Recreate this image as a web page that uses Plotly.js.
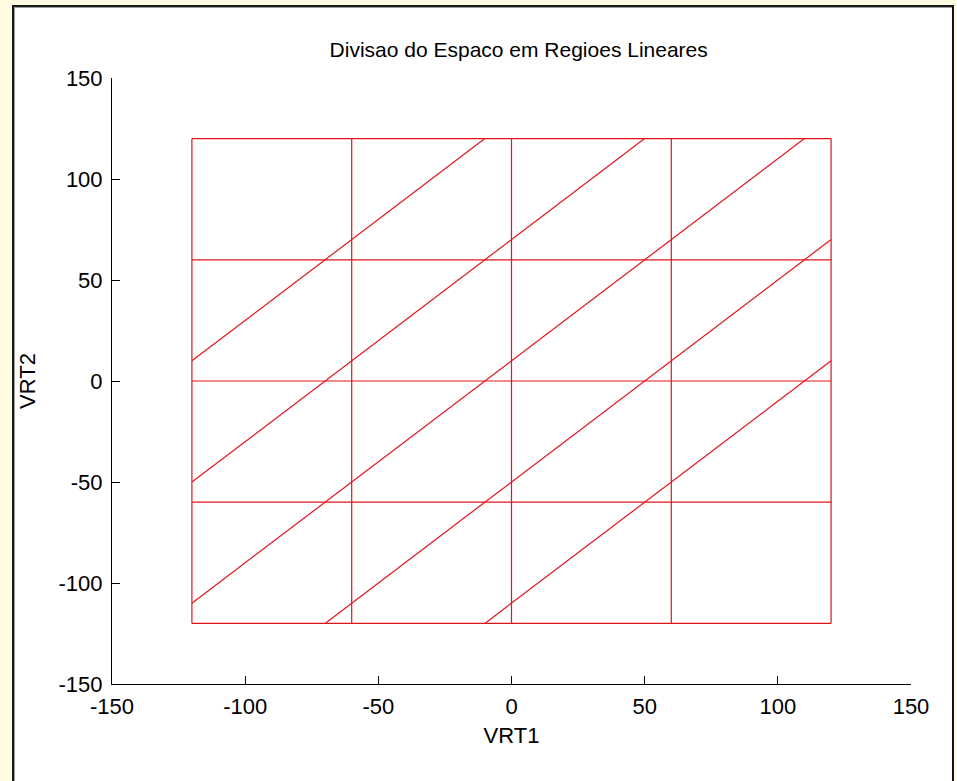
<!DOCTYPE html>
<html>
<head>
<meta charset="utf-8">
<script src="https://cdn.plot.ly/plotly-3.0.1.min.js"></script>
<style>
  html, body { margin: 0; padding: 0; width: 957px; height: 781px; overflow: hidden; background: #FFFBE3; }
  #frame { position: absolute; left: 12px; top: 5px; width: 938px; height: 800px; background: #fff;
           border-left: 2px solid #1a1a1a; border-top: 2px solid #1a1a1a; border-right: 2px solid #111; box-shadow: inset 1px 1px 0 #9a9a9a; }
  #chart { position: absolute; left: 0; top: 0; width: 957px; height: 781px; }
</style>
</head>
<body>
<div id="frame"></div>
<div id="chart"></div>
<script>
// Region grid (vertical and horizontal division lines)
const gridX = [-120, -60, 0, 60, 120];
const gridY = [-120, -60, 0, 60, 120];
// Diagonal division lines (segment endpoints)
const diagStartX = [-120, -120, -120, -70, -10];
const diagStartY = [10, -50, -110, -120, -120];
const diagEndX = [-10, 50, 110, 120, 120];
const diagEndY = [120, 120, 120, 70, 10];
// Axis ticks
const tickVals = [-150, -100, -50, 0, 50, 100, 150];
const tickText = ['-150', '-100', '-50', '0', '50', '100', '150'];

const yMin = Math.min(...gridY), yMax = Math.max(...gridY);
const xMin = Math.min(...gridX), xMax = Math.max(...gridX);
const lx = [], ly = [];
gridX.forEach(g => { lx.push(g, g, null); ly.push(yMin, yMax, null); });
gridY.forEach(g => { lx.push(xMin, xMax, null); ly.push(g, g, null); });
for (let i = 0; i < diagStartX.length; i++) {
  lx.push(diagStartX[i], diagEndX[i], null);
  ly.push(diagStartY[i], diagEndY[i], null);
}

const red = 'rgb(225,20,30)';
const traces = [{
  type: 'scatter', mode: 'lines', x: lx, y: ly, connectgaps: false,
  line: { color: red, width: 1.2 }, hoverinfo: 'skip', showlegend: false
}];

const font = 'Liberation Sans, Arial, Helvetica, sans-serif';
const axisCommon = {
  range: [-150, 150], tickvals: tickVals, ticktext: tickText,
  ticks: 'inside', ticklen: 8, tickwidth: 1, tickcolor: '#000',
  showline: true, linecolor: '#000', linewidth: 1,
  showgrid: false, zeroline: false, zerolinecolor: red, zerolinewidth: 1,
  tickfont: { family: font, size: 22, color: '#000' }, fixedrange: true
};

const layout = {
  width: 957, height: 781,
  margin: { l: 112, r: 46, t: 78, b: 97 },
  paper_bgcolor: 'rgba(0,0,0,0)', plot_bgcolor: 'rgba(0,0,0,0)',
  showlegend: false,
  title: { text: 'Divisao do Espaco em Regioes Lineares', font: { family: font, size: 21, color: '#000' },
           x: 0.509, xref: 'paper', xanchor: 'center', y: 1 - 50 / 781, yref: 'container', yanchor: 'middle' },
  xaxis: Object.assign({}, axisCommon, {
    ticklabelstandoff: 3,
    title: { text: 'VRT1', font: { family: font, size: 22, color: '#000' }, standoff: 9 }
  }),
  yaxis: Object.assign({}, axisCommon, {
    ticklabelstandoff: 4,
    title: { text: 'VRT2', font: { family: font, size: 22, color: '#000' }, standoff: 16 }
  })
};

Plotly.newPlot('chart', traces, layout, { displayModeBar: false, staticPlot: true });
</script>
</body>
</html>
